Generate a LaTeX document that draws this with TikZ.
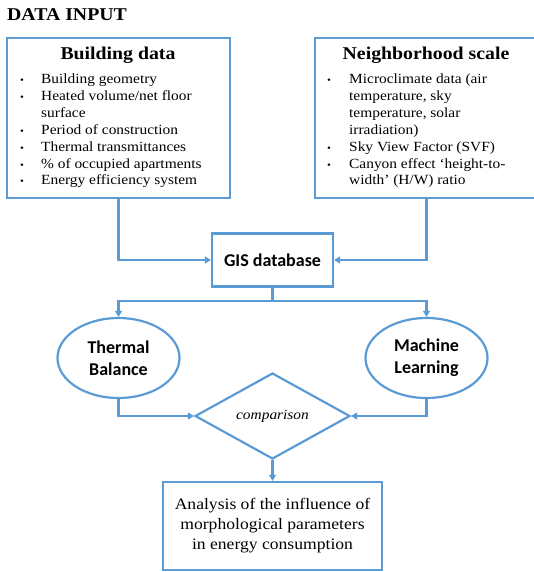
\documentclass[tikz,border=0pt]{standalone}
\usepackage{fontspec}
\setmainfont[FakeStretch=1.1]{Liberation Serif}
\newfontfamily\calfont{Carlito}
\usetikzlibrary{shapes.geometric,arrows.meta}
\definecolor{ln}{RGB}{91,155,213}
\begin{document}
\begin{tikzpicture}[x=1pt,y=-1pt,
  box/.style={draw=ln, line width=2.2pt, rectangle, inner sep=0pt},
  ttl/.style={font=\bfseries\fontsize{18}{22}\selectfont, inner sep=0pt},
  itm/.style={anchor=base west, inner sep=0pt, font=\fontsize{14}{17}\selectfont},
  bul/.style={anchor=base west, inner sep=0pt, font=\fontsize{10}{12}\selectfont},
  ell/.style={draw=ln, line width=2.2pt, ellipse, minimum width=122pt, minimum height=80pt, inner sep=0pt, align=center, font=\calfont\bfseries\fontsize{18}{22}\selectfont},
  dia/.style={draw=ln, line width=2.2pt, diamond, aspect=1.8, minimum width=155pt, minimum height=86pt, inner sep=0pt, font=\itshape\fontsize{14}{17}\selectfont},
  lnk/.style={draw=ln, line width=2.2pt},
  conn/.style={lnk, -{Triangle[width=7pt,length=6pt]}}
]
\useasboundingbox (0,0) rectangle (534,572);
\clip (0,0) rectangle (534,572);

\node[anchor=base west, inner sep=0pt, font=\bfseries\fontsize{18}{22}\selectfont] (title) at (7,21) {DATA INPUT};

% Building data
\node[box, minimum width=223pt, minimum height=160pt] (bd) at (118.5,118) {};
\node[ttl] (bdt) at (118,55) {Building data};
\node[bul] (bb1) at (20,84) {\textbullet};
\node[itm] (bi1) at (41,84) {Building geometry};
\node[bul] (bb2) at (20,100.8) {\textbullet};
\node[itm] (bi2) at (41,100.8) {Heated volume/net floor};
\node[itm] (bi3) at (41,117.6) {surface};
\node[bul] (bb4) at (20,134.4) {\textbullet};
\node[itm] (bi4) at (41,134.4) {Period of construction};
\node[bul] (bb5) at (20,151.2) {\textbullet};
\node[itm] (bi5) at (41,151.2) {Thermal transmittances};
\node[bul] (bb6) at (20,168) {\textbullet};
\node[itm] (bi6) at (41,168) {\% of occupied apartments};
\node[bul] (bb7) at (20,184.8) {\textbullet};
\node[itm] (bi7) at (41,184.8) {Energy efficiency system};

% Neighborhood scale
\node[box, minimum width=222pt, minimum height=160pt] (nb) at (426,118) {};
\node[ttl] (nbt) at (426,55) {Neighborhood scale};
\node[bul] (nb1) at (327,84) {\textbullet};
\node[itm] (ni1) at (349,84) {Microclimate data (air};
\node[itm] (ni2) at (349,100.8) {temperature, sky};
\node[itm] (ni3) at (349,117.6) {temperature, solar};
\node[itm] (ni4) at (349,134.4) {irradiation)};
\node[bul] (nb5) at (327,151.2) {\textbullet};
\node[itm] (ni5) at (349,151.2) {Sky View Factor (SVF)};
\node[bul] (nb6) at (327,168) {\textbullet};
\node[itm] (ni6) at (349,168) {Canyon effect ‘height-to-};
\node[itm] (ni7) at (349,184.8) {width’ (H/W) ratio};

% GIS
\node[box, minimum width=121pt, minimum height=53pt, font=\calfont\bfseries\fontsize{18}{22}\selectfont] (gis) at (272.5,260) {GIS database};

\node[ell] (tb) at (118.5,358) {Thermal\\Balance};
\node[ell] (ml) at (426.5,358) {Machine\\Learning};
\node[dia] (cmp) at (272.5,416) {comparison};
\node[box, minimum width=219pt, minimum height=88pt, align=center, font=\fontsize{16}{20}\selectfont] (res) at (272.5,526) {Analysis of the influence of\\morphological parameters\\in energy consumption};

% connectors
\draw[conn] (bd.south) |- (gis.west);
\draw[conn] (nb.south -| ml.north) |- (gis.east);
\coordinate (sp) at (272.5,301);
\draw[lnk] (gis.south) -- (sp);
\draw[conn] (sp) -| (tb.north);
\draw[conn] (sp) -| (ml.north);
\draw[conn] (tb.south) |- (cmp.west);
\draw[conn] (ml.south) |- (cmp.east);
\draw[conn] (cmp.south) -- (res.north);
\end{tikzpicture}
\end{document}
